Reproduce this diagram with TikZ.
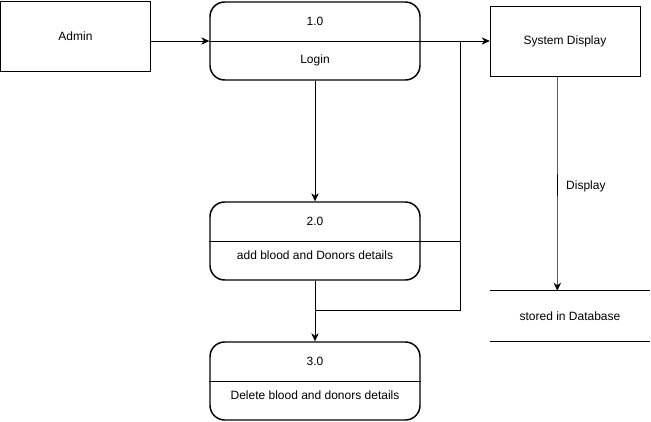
\documentclass[tikz,border=0pt]{standalone}
\usepackage{fontspec}
\setmainfont{Liberation Sans}
\usetikzlibrary{arrows.meta}
\begin{document}
\begin{tikzpicture}[>={Stealth[length=6pt,width=5.5pt]}, x=0.75pt, y=-0.75pt,
    font=\fontsize{9}{11}\selectfont,
    ent/.style={draw, inner sep=0pt, minimum width=112.5pt, minimum height=52.5pt},
    proc/.style={draw, line width=1.1pt, rounded corners=11pt, inner sep=0pt, minimum width=157.5pt, minimum height=58.5pt},
    store/.style={inner sep=0pt, minimum width=120pt, minimum height=37.5pt}]
\useasboundingbox (0,0) rectangle (651,422);
\node[ent](admin) at (75.5,36){Admin};
\node[ent](sys) at (565,41){System Display};
\node[proc](login) at (315,41){};
\node[proc](add) at (315,241){};
\node[proc](del) at (315,381){};
\node[store](db) at (570,316){stored in Database};
\draw (db.north west)--(db.north east);
\draw (db.south west)--(db.south east);
\node(n1) at (315,21){1.0};
\node(t1) at (315,60){Login};
\node(n2) at (315,221){2.0};
\node(t2) at (315,255){add blood and Donors details};
\node(n3) at (315,361){3.0};
\node(t3) at (315,395){Delete blood and donors details};
\draw (add.west)--(add.east);
\draw (del.west)--(del.east);
\coordinate (j) at (460,41);
\draw[->](login.west -| admin.east)--(login.west);
\draw[->](login.west)--(sys.west);
\draw[->](login.south)--(add.north);
\draw[->](add.south)--(del.north);
\draw (j) |- (add.south |- 0,310);
\draw (add.east)--(add.east -| j);
\draw[->]([xshift=-5.5pt]sys.south)--([xshift=-9.5pt]db.north)node[midway,right,xshift=3pt,yshift=-2pt]{Display};
\end{tikzpicture}
\end{document}
